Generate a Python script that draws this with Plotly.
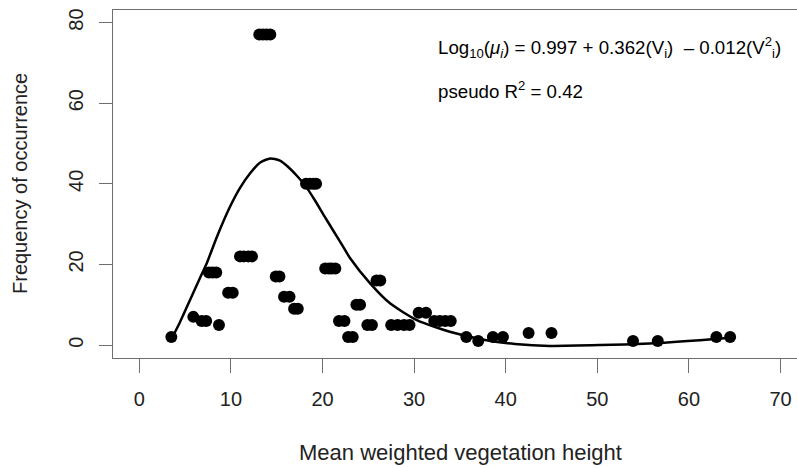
import plotly.graph_objects as go

# Observed points (mean weighted vegetation height, frequency of occurrence)
pts_x = [3.5, 5.9, 6.8, 7.3, 8.7, 7.6, 8.0, 8.4, 9.7, 10.2,
         11.0, 11.4, 11.9, 12.3, 13.1, 13.5, 13.9, 14.3,
         14.9, 15.3, 15.8, 16.4, 16.9, 17.3, 18.2, 18.6, 19.0, 19.3,
         20.3, 20.7, 21.0, 21.4, 21.8, 22.4, 22.8, 23.3, 23.7, 24.1,
         24.9, 25.4, 25.9, 26.3, 27.5, 28.2, 28.9, 29.5, 30.5, 31.3,
         32.2, 32.8, 33.4, 34.0, 35.7, 37.0, 38.6, 39.7, 42.5, 45.0,
         53.9, 56.6, 63.0, 64.5]
pts_y = [2, 7, 6, 6, 5, 18, 18, 18, 13, 13,
         22, 22, 22, 22, 77, 77, 77, 77,
         17, 17, 12, 12, 9, 9, 40, 40, 40, 40,
         19, 19, 19, 19, 6, 6, 2, 2, 10, 10,
         5, 5, 16, 16, 5, 5, 5, 5, 8, 8,
         6, 6, 6, 6, 2, 1, 2, 2, 3, 3,
         1, 1, 2, 2]

# Fitted curve
fit_x = [3.5, 4.4, 5.5, 6.6, 7.4, 8.5, 9.9, 11.0, 12.1, 13.2, 14.3, 15.3,
         16.2, 17.2, 18.2, 19.2, 20.2, 21.2, 22.2, 23.0, 25.2, 27.4, 30.3, 33.9,
         37.9, 41.0, 44.8, 50.3, 55.7, 61.2, 64.5]
fit_y = [1.5, 5.5, 11.0, 16.5, 20.5, 27.0, 34.3, 39.0, 42.6, 45.3, 46.3, 45.8,
         44.3, 42.0, 39.3, 35.8, 32.0, 28.3, 24.6, 21.6, 15.3, 10.3, 6.2, 3.3,
         1.2, 0.3, -0.2, 0.0, 0.4, 1.2, 1.8]

x_ticks = [0, 10, 20, 30, 40, 50, 60, 70]
y_ticks = [0, 20, 40, 60, 80]

FONT = "Liberation Sans, Arial, sans-serif"
AXC = "#6e6e6e"

fig = go.Figure()
fig.add_trace(go.Scatter(x=fit_x, y=fit_y, mode="lines",
                         line=dict(color="black", width=2.5, shape="spline", smoothing=0.6),
                         hoverinfo="skip", showlegend=False))
fig.add_trace(go.Scatter(x=pts_x, y=pts_y, mode="markers",
                         marker=dict(color="black", size=12, line=dict(width=0)),
                         showlegend=False))

fig.update_layout(
    width=797, height=468,
    margin=dict(l=113, r=0, t=10, b=110),
    paper_bgcolor="white", plot_bgcolor="white",
    font=dict(family=FONT, color="#222222"),
    xaxis=dict(range=[-2.87, 71.8], tickvals=x_ticks, ticktext=[str(v) for v in x_ticks],
               showgrid=False, zeroline=False, showline=True, mirror=True,
               linecolor=AXC, linewidth=1, ticks="outside", ticklen=14,
               tickcolor=AXC, tickwidth=1, tickfont=dict(size=20, family=FONT, color="#222222"),
               ticklabelstandoff=9),
    yaxis=dict(range=[-3.2, 83.1], tickvals=y_ticks, ticktext=[str(v) for v in y_ticks],
               showgrid=False, zeroline=False, showline=True, mirror=False,
               linecolor=AXC, linewidth=1, ticks="outside", ticklen=13,
               tickcolor=AXC, tickwidth=1, tickangle=-90,
               tickfont=dict(size=20, family=FONT, color="#222222"),
               ticklabelstandoff=8),
    annotations=[
        dict(text="Mean weighted vegetation height", x=(460 - 113) / 684, y=(358 - 452) / 348,
             xref="paper", yref="paper", xanchor="center", yanchor="middle",
             showarrow=False, font=dict(size=22, family=FONT, color="#222222")),
        dict(text="Frequency of occurrence", x=(20 - 113) / 684, y=(358 - 184) / 348,
             xref="paper", yref="paper", xanchor="center", yanchor="middle",
             textangle=-90, showarrow=False,
             font=dict(size=20, family=FONT, color="#222222")),
        dict(text="Log<sub>10</sub>(<i>μ<sub>i</sub></i>) = 0.997 + 0.362(V<sub>i</sub>)  \u2013 0.012(V<sup>2</sup><sub>i</sub>)",
             x=(436 - 113) / 684, y=(358 - 47) / 348, xref="paper", yref="paper",
             xanchor="left", yanchor="middle",
             showarrow=False, font=dict(size=18.7, family=FONT, color="black")),
        dict(text="pseudo R<sup>2</sup> = 0.42",
             x=(436 - 113) / 684, y=(358 - 90) / 348, xref="paper", yref="paper",
             xanchor="left", yanchor="middle",
             showarrow=False, font=dict(size=18.7, family=FONT, color="black")),
    ],
)

fig.write_html("out.html")
